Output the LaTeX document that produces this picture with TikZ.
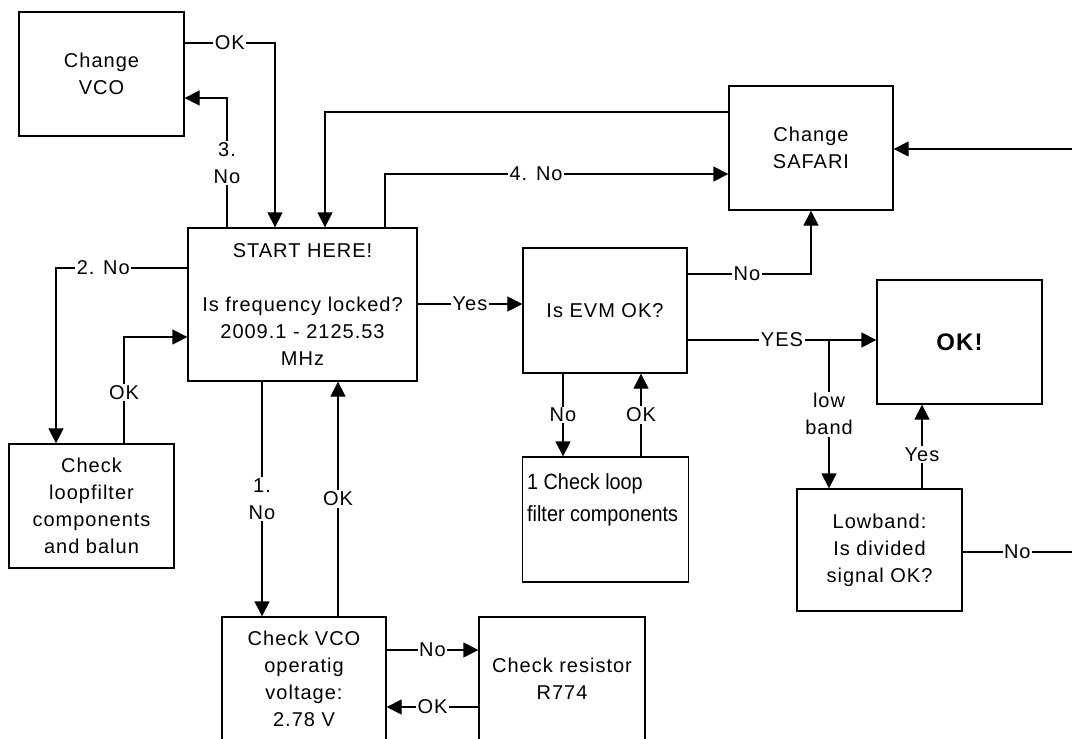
\documentclass[tikz,border=0pt]{standalone}
\usepackage{fontspec}
\setmainfont[LetterSpace=5]{Liberation Sans}
\newfontfamily\narrowfont[FakeStretch=0.9]{Liberation Sans}
\usetikzlibrary{arrows.meta, calc}

\begin{document}
\begin{tikzpicture}[
    x=1pt, y=-1pt,
    font=\fontsize{20}{27}\selectfont,
    >={Triangle[length=15pt,width=15pt]},
    block/.style={
        draw,
        line width=1.3pt,
        align=center,
        inner sep=0pt,
        minimum width=#1,
        minimum height=124pt
    },
    block/.default=165pt,
    arrow/.style={->, line width=1.3pt},
    wire/.style={line width=1.3pt},
    lbl/.style={fill=white, inner sep=1.5pt, align=center}
]
\useasboundingbox (0,0) rectangle (1072,739);
\clip (0,0) rectangle (1072,739);

% Boxes
\node[block] (vco) at (101.5,74) {Change\\VCO};
\node[block=229pt, minimum height=153pt] (start) at (302.5,304.5) {START HERE!\\[27pt]Is frequency locked?\\2009.1 - 2125.53\\MHz};
\node[block=164pt] (safari) at (811,148) {Change\\SAFARI};
\node[block=164pt, minimum height=125pt] (evm) at (605,310.5) {Is EVM OK?};
\node[block, font=\fontsize{24}{28}\selectfont\bfseries] (ok) at (959.5,342) {OK!};
\node[block] (balun) at (91.5,506) {Check\\loopfilter\\components\\and balun};
\node[block=166pt, minimum height=125pt] (loopf) at (605.5,519.5) {};
\node[anchor=north west, align=left, inner sep=0pt, font=\narrowfont\fontsize{22}{32}\selectfont] (loopftxt) at (527,473) {1 Check loop\\filter components};
\node[block, minimum height=122pt] (lowband) at (879.5,550) {Lowband:\\Is divided\\signal OK?};
\node[block=164pt] (vcov) at (304,679) {Check VCO\\operatig\\voltage:\\2.78 V};
\node[block=166pt] (resistor) at (562,679) {Check resistor\\R774};

% Around the start box
\draw[arrow] (vco.east |- 0,43) -- node[lbl]{OK} (275,43) -- (start.north -| 275,0);
\draw[arrow] (start.north -| 227,0) -- node[lbl]{3.\\No} (227,98) -- (vco.east |- 0,98);
\draw[arrow] (safari.west |- 0,112) -| (start.north -| 325,0);
\draw[arrow] (start.north -| 385,0) |- node[lbl, pos=0.72]{4. No} (safari.west |- 0,174);
\draw[arrow] (start.west |- 0,268) -| node[lbl, pos=0.32]{2. No} (balun.north -| 56,0);
\draw[arrow] (balun.north -| 124,0) |- node[lbl, pos=0.24]{OK} (start.west |- 0,337);
\draw[arrow] (start.east |- 0,304) -- node[lbl]{Yes} (evm.west |- 0,304);
\draw[arrow] (start.south -| 262,0) -- node[lbl]{1.\\No} (vcov.north -| 262,0);
\draw[arrow] (vcov.north -| 338,0) -- node[lbl]{OK} (start.south -| 338,0);
\draw[arrow] (vcov.east |- 0,650) -- node[lbl]{No} (resistor.west |- 0,650);
\draw[arrow] (resistor.west |- 0,707) -- node[lbl]{OK} (vcov.east |- 0,707);

% EVM check
\draw[arrow] (evm.east |- 0,274) -| node[lbl, pos=0.24]{No} (safari.south);
\draw[arrow] (evm.east |- 0,340) -- node[lbl]{YES} (ok.west |- 0,340);
\draw[arrow] (evm.south -| 563,0) -- node[lbl]{No} (loopf.north -| 563,0);
\draw[arrow] (loopf.north -| 641,0) -- node[lbl]{OK} (evm.south -| 641,0);

% Low band branch
\coordinate (split) at (829,340);
\draw[arrow] (split) -- node[lbl]{low\\band} (lowband.north -| split);
\draw[arrow] (lowband.north -| 922,0) -- node[lbl, pos=0.4]{Yes} (ok.south -| 922,0);
\coordinate (edgeNo) at (1072,552);
\draw[wire] (lowband.east |- edgeNo) -- node[lbl]{No} (edgeNo);
\coordinate (edgeIn) at (1072,149);
\draw[arrow] (edgeIn) -- (safari.east |- edgeIn);

\end{tikzpicture}
\end{document}
